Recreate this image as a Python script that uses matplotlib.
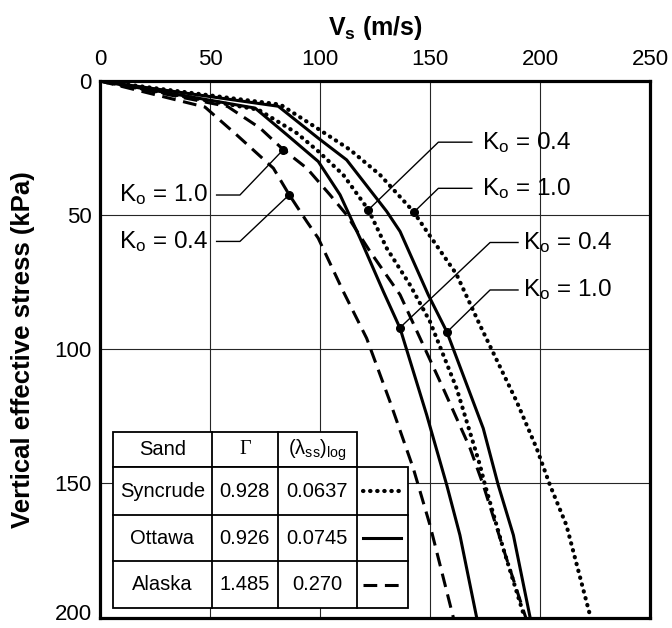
import numpy as np
import matplotlib.pyplot as plt
from matplotlib.patches import Rectangle
from matplotlib.transforms import ScaledTranslation

plt.rcParams['font.family'] = ['Liberation Sans', 'DejaVu Sans']
plt.rcParams['mathtext.fontset'] = 'custom'
plt.rcParams['mathtext.rm'] = 'Liberation Sans'
plt.rcParams['mathtext.bf'] = 'Liberation Sans:bold'
plt.rcParams['mathtext.it'] = 'Liberation Sans:italic'

# shear wave velocity Vs (m/s) vs vertical effective stress (kPa)
syn10_s = [0, 8.8, 17.5, 25.6, 35, 48.6, 56, 72, 91, 119.5, 137, 150.6, 165.6, 200]
syn10_v = [0, 82, 98.5, 113.6, 127.3, 142.4, 148.5, 162, 172.7, 189.4, 198.5, 204.5, 212, 223]

syn04_s = [0, 10.7, 19.4, 26.2, 35, 48, 62.3, 76, 89.7, 114.6, 143.2, 150.6, 174.3, 200]
syn04_v = [0, 72, 89.4, 99.2, 110.6, 122, 130.3, 140.9, 150, 162.1, 172.7, 175, 183.3, 193]

ott10_s = [0, 9.4, 21.3, 29.4, 48.6, 56.1, 79.7, 93.4, 129.5, 150.6, 169.3, 200]
ott10_v = [0, 81, 99.2, 112.1, 130.3, 136.4, 149.2, 157.6, 174.2, 181, 187.9, 195.5]

ott04_s = [0, 10.1, 20, 30, 42.4, 58.6, 78.5, 92.2, 124.5, 150.6, 169.3, 200]
ott04_v = [0, 70.5, 84.9, 99.2, 109.1, 118.2, 128.8, 136.4, 148.5, 157.6, 163.6, 171.2]

ala10_s = [0, 9.5, 17.5, 25.6, 32.5, 42.4, 49.9, 63.5, 79.7, 95.9, 114.6, 136.9, 150.6, 174.3, 200]
ala10_v = [0, 58, 72.7, 83.3, 94, 104.5, 112.1, 122.7, 136.4, 145.5, 156, 168.2, 174.2, 183.3, 193.5]

ala04_s = [0, 9.7, 20, 32.5, 42.4, 52.4, 58.6, 78.5, 95.9, 119.5, 144.4, 165.6, 200]
ala04_v = [0, 47.7, 62, 78.8, 86, 94, 99.2, 110.6, 121.2, 131.8, 142.4, 150, 160.6]

# table contents
sands = ['Syncrude', 'Ottawa', 'Alaska']
gammas = ['0.928', '0.926', '1.485']
lambdas = ['0.0637', '0.0745', '0.270']

dotted = dict(color='black', lw=3.0, linestyle=(0, (0.1, 1.6)), dash_capstyle='round')
solid = dict(color='black', lw=2.2)
dashed = dict(color='black', lw=2.2, linestyle=(0, (4.5, 2.5)))
line_styles = [dotted, solid, dashed]

fig = plt.figure(figsize=(6.72, 6.28), dpi=100)
ax = fig.add_axes([0.1488, 0.0167, 0.8185, 0.8543])

ax.plot(syn10_v, syn10_s, **dotted)
ax.plot(syn04_v, syn04_s, **dotted)
ax.plot(ott10_v, ott10_s, **solid)
ax.plot(ott04_v, ott04_s, **solid)
ax.plot(ala10_v, ala10_s, **dashed)
ax.plot(ala04_v, ala04_s, **dashed)

ax.set_xlim(0, 250)
ax.set_ylim(200, 0)
ax.set_xticks([0, 50, 100, 150, 200, 250])
ax.set_yticks([0, 50, 100, 150, 200])
ax.xaxis.tick_top()
ax.xaxis.set_label_position('top')
ax.tick_params(length=0, labelsize=16)
ax.tick_params(axis='x', pad=8)
ax.tick_params(axis='y', pad=6)
ax.grid(True, color='0.15', lw=0.8)
for sp in ax.spines.values():
    sp.set_linewidth(2.3)

# nudge the bottom stress label up so it stays on the canvas
last = ax.get_yticklabels()[-1]
last.set_transform(last.get_transform() + ScaledTranslation(0, 4 / 72, fig.dpi_scale_trans))

ax.set_xlabel(r'V$_\mathbf{s}$ (m/s)', fontsize=18, fontweight='bold', labelpad=10)
ax.set_ylabel('Vertical effective stress (kPa)', fontsize=18.5, fontweight='bold', labelpad=14)

# K0 call-outs: label, curve, stress at the dot, text side, text position, elbow x, leader end x
callouts = [
    ('1.0', ala10_v, ala10_s, 25.6, 'right', 49, 42.5, 63.6, 53),
    ('0.4', ala04_v, ala04_s, 42.4, 'right', 49, 59.8, 63.6, 53),
    ('0.4', syn04_v, syn04_s, 48.0, 'left', 173.5, 22.8, 153.8, 169),
    ('1.0', syn10_v, syn10_s, 48.9, 'left', 173.5, 40.0, 153.8, 169),
    ('0.4', ott04_v, ott04_s, 92.0, 'left', 192.4, 60.2, 177.3, 190),
    ('1.0', ott10_v, ott10_s, 93.6, 'left', 192.4, 77.9, 177.3, 190),
]
for k, cv, cs, s_dot, side, tx, ty, elbow, lend in callouts:
    v_dot = np.interp(s_dot, cs, cv)
    ax.plot([lend, elbow, v_dot], [ty, ty, s_dot], color='black', lw=1.0)
    ax.plot(v_dot, s_dot, 'o', color='black', ms=5.5)
    ax.text(tx, ty, r'K$_\mathregular{o}$ = ' + k, fontsize=17.5, ha=side, va='center')

# table in the lower left corner
col_x = [6, 50.8, 80.8, 116.6, 140.1]
row_s = [131, 144, 161.7, 179.1, 196.3]
ax.add_patch(Rectangle((col_x[0], row_s[0]), col_x[3] - col_x[0], row_s[1] - row_s[0],
                       facecolor='white', edgecolor='black', lw=1.3, zorder=5))
ax.add_patch(Rectangle((col_x[0], row_s[1]), col_x[4] - col_x[0], row_s[4] - row_s[1],
                       facecolor='white', edgecolor='black', lw=1.3, zorder=5))
for s in row_s[2:4]:
    ax.plot([col_x[0], col_x[4]], [s, s], color='black', lw=1.3, zorder=6)
for x in col_x[1:3]:
    ax.plot([x, x], [row_s[0], row_s[4]], color='black', lw=1.3, zorder=6)
ax.plot([col_x[3], col_x[3]], [row_s[1], row_s[4]], color='black', lw=1.3, zorder=6)

tcfg = dict(fontsize=14.5, ha='center', va='center', zorder=7)
hy = (row_s[0] + row_s[1]) / 2
ax.text((col_x[0] + col_x[1]) / 2, hy, 'Sand', **tcfg)
ax.text((col_x[1] + col_x[2]) / 2, hy, 'Γ', family='Liberation Serif', **tcfg)
ax.text((col_x[2] + col_x[3]) / 2, hy, r'(λ$_\mathregular{ss}$)$_\mathregular{log}$', **tcfg)
for i in range(3):
    ry = (row_s[i + 1] + row_s[i + 2]) / 2
    ax.text((col_x[0] + col_x[1]) / 2, ry, sands[i], **tcfg)
    ax.text((col_x[1] + col_x[2]) / 2, ry, gammas[i], **tcfg)
    ax.text((col_x[2] + col_x[3]) / 2, ry, lambdas[i], **tcfg)
    ax.plot([119.7, 136.6], [ry, ry], zorder=7, **line_styles[i])

fig.savefig('out.png', dpi=100)
